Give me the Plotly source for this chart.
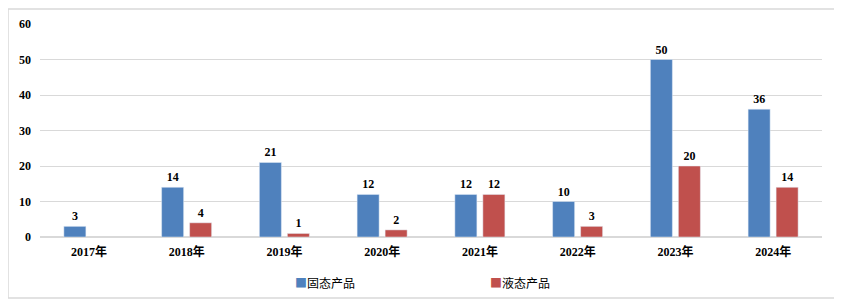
import plotly.graph_objects as go

years = ["2017年", "2018年", "2019年", "2020年", "2021年", "2022年", "2023年", "2024年"]
solid = [3, 14, 21, 12, 12, 10, 50, 36]
liquid = [None, 4, 1, 2, 12, 3, 20, 14]
liquid_text = ["", "4", "1", "2", "12", "3", "20", "14"]
y_ticks = [0, 10, 20, 30, 40, 50, 60]
series_names = ["固态产品", "液态产品"]
colors = ["#4F81BD", "#C0504D"]

label_font = dict(family="Liberation Serif, Times New Roman, serif", size=12, color="black", weight="bold")

fig = go.Figure()
fig.add_trace(go.Bar(
    x=years, y=solid, name=series_names[0], marker_color=colors[0],
    text=[str(v) for v in solid], textposition="outside", textfont=label_font,
    cliponaxis=False,
))
fig.add_trace(go.Bar(
    x=years, y=liquid, name=series_names[1], marker_color=colors[1],
    text=liquid_text, textposition="outside", textfont=label_font,
    cliponaxis=False,
))

# page body has an 8px margin; work in figure coordinates
OFF = 8
W, H = 834, 300
L, R, T, B = 32, 20, 16, 71
pw, ph = W - L - R, H - T - B

def px_x(p):
    return (p - OFF - L) / pw

def px_y(p):
    return (H - B - (p - OFF)) / ph

legend_x = [293, 488]
annotations = []
for name, col, lx in zip(series_names, colors, legend_x):
    annotations.append(dict(
        xref="paper", yref="paper", x=px_x(lx), y=px_y(282), xanchor="left", yanchor="middle",
        text=f"<span style='color:{col}'>■</span>{name}", showarrow=False,
        font=dict(family="Noto Sans CJK SC", size=12, color="black"),
    ))

fig.update_layout(
    width=W, height=H,
    margin=dict(l=L, r=R, t=T, b=B, autoexpand=False),
    paper_bgcolor="white", plot_bgcolor="white",
    barmode="group", bargap=0.427, bargroupgap=0.214,
    font=dict(family="Liberation Serif, Noto Sans CJK SC", size=12, color="black"),
    showlegend=False,
    annotations=annotations,
    shapes=[dict(type="rect", xref="paper", yref="paper",
                 x0=px_x(8), x1=px_x(837), y0=px_y(298), y1=px_y(9),
                 line=dict(color="#D9D9D9", width=1.5), fillcolor="rgba(0,0,0,0)", layer="below")],
)
fig.update_yaxes(range=[0, 60], tickvals=y_ticks, showgrid=True, gridcolor="#D9D9D9", gridwidth=1,
                 zeroline=True, zerolinecolor="#D9D9D9", zerolinewidth=2, automargin=False,
                 tickfont=dict(family="Liberation Serif", size=12, color="black", weight="bold"),
                 ticklabelstandoff=8, showline=False)
fig.update_xaxes(showline=False, ticks="", automargin=False,
                 tickfont=dict(family="Liberation Serif, Noto Sans CJK SC", size=12, color="black", weight="bold"),
                 ticklabelstandoff=6)

fig.write_html("out.html")
